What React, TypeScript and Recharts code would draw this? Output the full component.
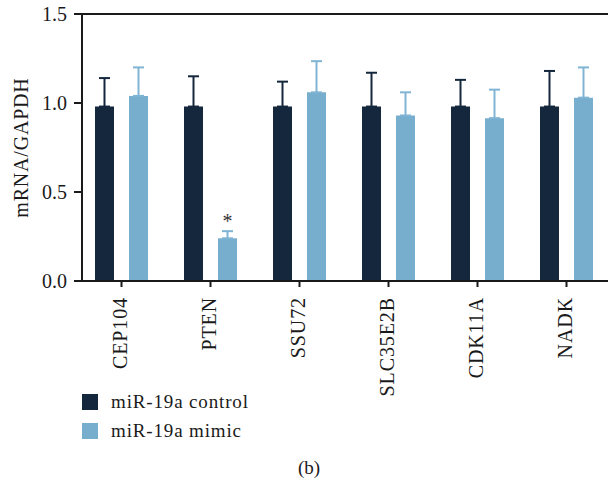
import React from 'react';
import {
  BarChart,
  Bar,
  XAxis,
  YAxis,
  ErrorBar,
  LabelList,
  ReferenceLine,
} from 'recharts';

// genes on the x axis
const genes = ['CEP104', 'PTEN', 'SSU72', 'SLC35E2B', 'CDK11A', 'NADK'];

// relative expression (mean) and upper SD for each group
const controlMean = [0.98, 0.98, 0.98, 0.98, 0.98, 0.98];
const controlSd = [0.16, 0.17, 0.14, 0.19, 0.15, 0.2];
const mimicMean = [1.04, 0.24, 1.06, 0.93, 0.915, 1.03];
const mimicSd = [0.16, 0.04, 0.175, 0.13, 0.16, 0.17];
const significance = ['', '*', '', '', '', ''];

const yTicks = [0, 0.5, 1.0, 1.5];

const seriesNames = ['miR-19a control', 'miR-19a mimic'];
const seriesColors = ['#14273c', '#78aecd'];
const errColors = ['#14273c', '#80b4d4'];

const FONT = '"Liberation Serif", "Times New Roman", serif';
const INK = '#1a1a1a';

const data = genes.map((g, i) => ({
  gene: g,
  control: controlMean[i],
  controlErr: [0, controlSd[i]],
  mimic: mimicMean[i],
  mimicErr: [0, mimicSd[i]],
  sig: significance[i],
}));

function GeneTick(props: any) {
  const { x, y, payload } = props;
  return (
    <text
      x={x}
      y={y}
      dy={5}
      transform={`rotate(-90 ${x} ${y})`}
      textAnchor="end"
      fill={INK}
      fontFamily={FONT}
      fontSize={20}
      letterSpacing={0.9}
    >
      {payload.value}
    </text>
  );
}

export default function App() {
  return (
    <div
      style={{
        position: 'fixed',
        left: 0,
        top: 0,
        width: 608,
        height: 485,
        overflow: 'hidden',
        background: '#fff',
        fontFamily: FONT,
      }}
    >
      <BarChart
        width={616}
        height={485}
        data={data}
        margin={{ top: 14, right: 5, left: 0, bottom: 0 }}
        barSize={19}
        barGap={15}
      >
        <XAxis
          dataKey="gene"
          height={204}
          padding={{ left: -5, right: 0 }}
          interval={0}
          axisLine={{ stroke: INK, strokeWidth: 2 }}
          tickLine={{ stroke: INK, strokeWidth: 2 }}
          tickSize={6}
          tickMargin={10}
          tick={<GeneTick />}
        />
        <YAxis
          width={82}
          domain={[0, 1.5]}
          ticks={yTicks}
          tickFormatter={(v: number) => v.toFixed(1)}
          axisLine={{ stroke: INK, strokeWidth: 2 }}
          tickLine={{ stroke: INK, strokeWidth: 2 }}
          tickSize={8}
          tickMargin={7}
          tick={{ fill: INK, fontFamily: FONT, fontSize: 20 }}
          label={{
            value: 'mRNA/GAPDH',
            angle: -90,
            position: 'insideLeft',
            offset: 21,
            style: {
              textAnchor: 'middle',
              fill: INK,
              fontFamily: FONT,
              fontSize: 20,
              letterSpacing: 0.8,
            },
          }}
        />
        <ReferenceLine y={1.5} stroke={INK} strokeWidth={2} />
        <Bar dataKey="control" name={seriesNames[0]} fill={seriesColors[0]} isAnimationActive={false}>
          <ErrorBar
            dataKey="controlErr"
            width={5.5}
            stroke={errColors[0]}
            strokeWidth={2}
            isAnimationActive={false}
          />
        </Bar>
        <Bar dataKey="mimic" name={seriesNames[1]} fill={seriesColors[1]} isAnimationActive={false}>
          <ErrorBar
            dataKey="mimicErr"
            width={5.5}
            stroke={errColors[1]}
            strokeWidth={2}
            isAnimationActive={false}
          />
          <LabelList
            dataKey="sig"
            position="top"
            offset={10}
            fill="#333"
            fontFamily={FONT}
            fontSize={20}
          />
        </Bar>
      </BarChart>

      {/* legend */}
      <div style={{ position: 'absolute', left: 82, top: 387 }}>
        {seriesNames.map((name, i) => (
          <div
            key={name}
            style={{
              display: 'flex',
              alignItems: 'center',
              height: 29,
              color: INK,
              fontSize: 19,
              letterSpacing: 0.85,
            }}
          >
            <span
              style={{
                display: 'inline-block',
                width: 16,
                height: 16,
                background: seriesColors[i],
                marginRight: 13,
              }}
            />
            {name}
          </div>
        ))}
      </div>

      <div
        style={{
          position: 'absolute',
          left: 0,
          width: 618,
          top: 457,
          textAlign: 'center',
          fontSize: 19,
          color: INK,
        }}
      >
        (b)
      </div>
    </div>
  );
}
